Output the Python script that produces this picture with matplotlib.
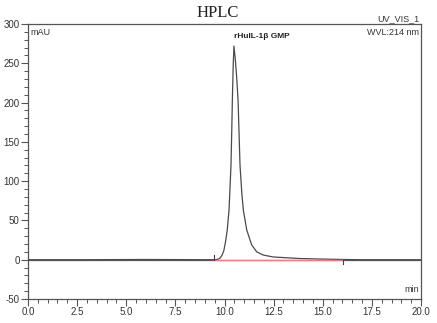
import matplotlib
matplotlib.use("Agg")
import matplotlib.pyplot as plt
from matplotlib.ticker import MultipleLocator

# Chromatogram trace (time in min, signal in mAU)
time_min = [0.0, 3.0, 6.0, 9.0, 9.5, 9.65, 9.77, 9.88, 9.97, 10.06, 10.14, 10.23, 10.33,
            10.37, 10.40, 10.44, 10.48, 10.55, 10.62, 10.69, 10.79, 10.88, 10.96,
            11.13, 11.38, 11.64, 11.96, 12.47, 13.84, 15.0, 16.0, 17.0, 20.0]
signal_mau = [0.0, 0.0, 0.3, 0.0, 0.0, 0.5, 2.0, 6.0, 12.0, 24.0, 38.0, 63.0, 120.0,
              165.0, 203.0, 245.0, 272.0, 255.0, 232.0, 203.0, 120.0, 85.0, 63.0,
              38.0, 19.0, 10.0, 6.0, 3.5, 1.5, 0.8, 0.3, 0.0, 0.0]

peak_label = "rHuIL-1β GMP"
peak_time = 10.48
peak_height = 272.0
integ_start = 9.48
integ_end = 16.05

x_ticks = [0.0, 2.5, 5.0, 7.5, 10.0, 12.5, 15.0, 17.5, 20.0]
y_ticks = [-50, 0, 50, 100, 150, 200, 250, 300]

fig = plt.figure(figsize=(4.37, 3.23), dpi=100)
ax = fig.add_axes([28/437, 24/323, (421-28)/437, (299-24)/323])

ax.plot(time_min, signal_mau, color="#4a4a4a", lw=0.9, zorder=3)
ax.plot([0, 20], [0, 0], color="#5a5a5a", lw=0.9, zorder=2)
ax.plot([integ_start, integ_end], [0, 0], color="#f08080", lw=1.0, zorder=4)
ax.plot([integ_start, integ_start], [0, 6], color="#3a3a6a", lw=0.8, zorder=4)
ax.plot([integ_end, integ_end], [0, -5], color="#3a3a6a", lw=0.8, zorder=4)

ax.set_xlim(0, 20)
ax.set_ylim(-50, 300)
ax.set_xticks(x_ticks)
ax.set_xticklabels([f"{v:.1f}" for v in x_ticks])
ax.set_yticks(y_ticks)
ax.set_yticklabels([str(v) for v in y_ticks])
ax.xaxis.set_minor_locator(MultipleLocator(0.5))
ax.yaxis.set_minor_locator(MultipleLocator(10))
ax.tick_params(which="major", direction="out", length=5, width=0.8, color="#555555",
               labelsize=7, labelcolor="#333333", pad=1)
ax.tick_params(which="minor", direction="out", length=3, width=0.7, color="#555555")
for s in ax.spines.values():
    s.set_color("#555555")
    s.set_linewidth(0.9)
for lab in ax.get_xticklabels() + ax.get_yticklabels():
    lab.set_family("Liberation Sans")

fig.text(218/437, 1 - 13/323, "HPLC", family="Liberation Serif", fontsize=12,
         ha="center", va="center", color="#222222")
fig.text(419/437, 1 - 19/323, "UV_VIS_1", family="Liberation Sans", fontsize=6.5,
         ha="right", va="center", color="#333333")
ax.text(0.995, 0.985, "WVL:214 nm", transform=ax.transAxes, family="Liberation Sans",
        fontsize=6.5, ha="right", va="top", color="#333333")
ax.text(0.006, 0.985, "mAU", transform=ax.transAxes, family="Liberation Sans",
        fontsize=6.5, ha="left", va="top", color="#333333")
ax.text(0.995, 0.02, "min", transform=ax.transAxes, family="Liberation Sans",
        fontsize=6.5, ha="right", va="bottom", color="#333333")
ax.text(peak_time + 0.02, peak_height + 8, peak_label, family="Liberation Sans",
        fontsize=6, fontweight="bold", ha="left", va="bottom", color="#222222")

fig.savefig("out.png", dpi=100)
